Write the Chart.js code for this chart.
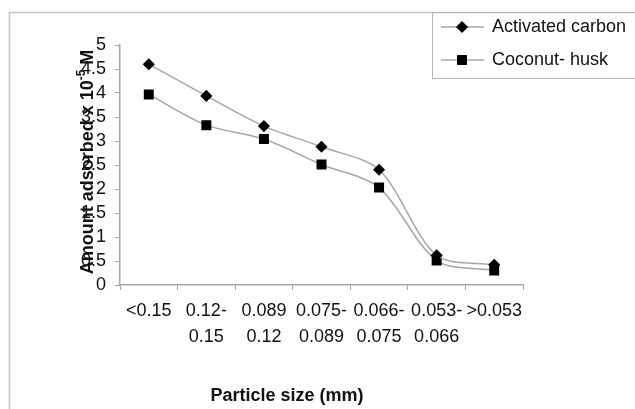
<!DOCTYPE html>
<html>
<head>
<meta charset="utf-8">
<script src="https://cdn.jsdelivr.net/npm/chart.js@4.4.0/dist/chart.umd.min.js"></script>
<style>
  html, body { margin: 0; padding: 0; background: #fff; }
  #wrap { width: 635px; height: 409px; }
</style>
</head>
<body>
<div id="wrap"><canvas id="grafico" width="635" height="409"></canvas></div>
<script>
// Datos
const categorias = [['<0.15'], ['0.12-', '0.15'], ['0.089', '0.12'], ['0.075-', '0.089'], ['0.066-', '0.075'], ['0.053-', '0.066'], ['>0.053']];
const carbonActivado = [4.6, 3.94, 3.31, 2.88, 2.4, 0.62, 0.42];
const cascaraCoco = [3.97, 3.33, 3.04, 2.51, 2.03, 0.51, 0.3];
const nombresSeries = ['Activated carbon', 'Coconut- husk'];
const ticksY = [0, 0.5, 1, 1.5, 2, 2.5, 3, 3.5, 4, 4.5, 5];

const FUENTE = "'Liberation Sans', Arial, sans-serif";
const GRIS = '#a6a6a6';

// Marco exterior, títulos de ejes y leyenda dibujados a mano
const decoracion = {
    id: 'decoracion',
    beforeDraw(chart) {
        const ctx = chart.ctx;
        ctx.save();
        ctx.fillStyle = '#fff';
        ctx.fillRect(0, 0, chart.width, chart.height);
        ctx.strokeStyle = '#c4c4c4';
        ctx.lineWidth = 1.5;
        ctx.strokeRect(9.5, 12.5, 700, 500);
        ctx.restore();
    },
    afterDraw(chart) {
        const ctx = chart.ctx;
        ctx.save();
        ctx.fillStyle = '#111';

        // título eje X
        ctx.font = 'bold 18px ' + FUENTE;
        ctx.textAlign = 'center';
        ctx.textBaseline = 'middle';
        ctx.fillText('Particle size (mm)', 287, 396);

        // título eje Y con superíndice
        ctx.translate(88, 162);
        ctx.rotate(-Math.PI / 2);
        const parte1 = 'Amount adsorbed x 10';
        const sup = '-5';
        const parte2 = ' M';
        ctx.font = 'bold 18px ' + FUENTE;
        const w1 = ctx.measureText(parte1).width;
        const w3 = ctx.measureText(parte2).width;
        ctx.font = 'bold 12px ' + FUENTE;
        const w2 = ctx.measureText(sup).width;
        let x = -(w1 + w2 + w3) / 2;
        ctx.textAlign = 'left';
        ctx.font = 'bold 18px ' + FUENTE;
        ctx.fillText(parte1, x, 0);
        x += w1;
        ctx.font = 'bold 12px ' + FUENTE;
        ctx.fillText(sup, x, -6);
        x += w2;
        ctx.font = 'bold 18px ' + FUENTE;
        ctx.fillText(parte2, x, 0);
        ctx.restore();

        // leyenda
        ctx.save();
        ctx.strokeStyle = '#b5b5b5';
        ctx.lineWidth = 1;
        ctx.strokeRect(432.5, 12.5, 300, 66);
        const filas = [27, 60];
        chart.data.datasets.forEach((ds, i) => {
            const y = filas[i];
            ctx.strokeStyle = GRIS;
            ctx.lineWidth = 1.5;
            ctx.beginPath();
            ctx.moveTo(441, y);
            ctx.lineTo(484, y);
            ctx.stroke();
            ctx.fillStyle = '#000';
            ctx.strokeStyle = '#000';
            Chart.helpers.drawPoint(ctx, { pointStyle: ds.pointStyle, radius: ds.pointRadius, rotation: 0, borderWidth: 1 }, 462, y);
            ctx.fillStyle = '#111';
            ctx.font = '18px ' + FUENTE;
            ctx.textAlign = 'left';
            ctx.textBaseline = 'middle';
            ctx.fillText(ds.label, 492, y);
        });
        ctx.restore();
    }
};

const ctx = document.getElementById('grafico').getContext('2d');
new Chart(ctx, {
    type: 'line',
    data: {
        labels: categorias,
        datasets: [{
            label: nombresSeries[0],
            data: carbonActivado,
            borderColor: GRIS,
            borderWidth: 1.5,
            pointStyle: 'rectRot',
            pointRadius: 5,
            pointBackgroundColor: '#000',
            pointBorderColor: '#000',
            tension: 0.3
        }, {
            label: nombresSeries[1],
            data: cascaraCoco,
            borderColor: GRIS,
            borderWidth: 1.5,
            pointStyle: 'rect',
            pointRadius: 6,
            pointBackgroundColor: '#000',
            pointBorderColor: '#000',
            tension: 0.3
        }]
    },
    options: {
        responsive: false,
        animation: false,
        layout: { padding: { left: 80, top: 45, right: 112, bottom: 0 } },
        plugins: { legend: { display: false }, tooltip: { enabled: false } },
        scales: {
            x: {
                offset: true,
                grid: { offset: true, drawOnChartArea: false, color: GRIS, tickLength: 5 },
                border: { color: GRIS, width: 1.5 },
                ticks: {
                    color: '#111',
                    padding: 8,
                    maxRotation: 0,
                    autoSkip: false,
                    font: { family: FUENTE, size: 18, lineHeight: 1.45 }
                },
                afterFit(escala) { escala.height = 124; }
            },
            y: {
                min: 0,
                max: 5,
                afterBuildTicks(escala) { escala.ticks = ticksY.map(v => ({ value: v })); },
                grid: { drawOnChartArea: false, color: GRIS, tickLength: 5 },
                border: { color: GRIS, width: 1.5 },
                ticks: {
                    color: '#111',
                    padding: 9,
                    autoSkip: false,
                    font: { family: FUENTE, size: 18 },
                    callback: v => String(v)
                },
                afterFit(escala) { escala.width = 40; }
            }
        }
    },
    plugins: [decoracion]
});
</script>
</body>
</html>
